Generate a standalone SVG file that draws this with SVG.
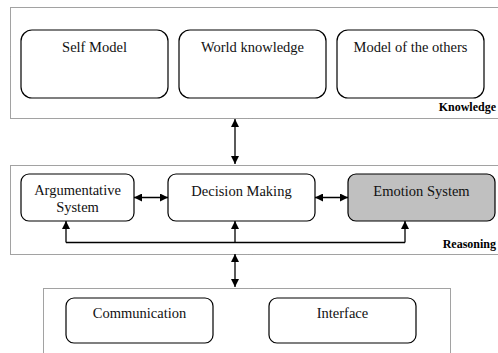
<svg xmlns="http://www.w3.org/2000/svg" width="498" height="353" viewBox="0 0 498 353">
<style>
.layer{fill:none;stroke:#444;stroke-width:1;stroke-dasharray:1 1}
.node{fill:#fff;stroke:#000;stroke-width:1.2}
.t{font-family:'Liberation Serif','DejaVu Serif',serif;font-size:14.5px;fill:#111;text-anchor:middle}
.lbl{font-family:'Liberation Serif','DejaVu Serif',serif;font-size:12px;font-weight:bold;fill:#000;text-anchor:end}
.c{fill:none;stroke:#000;stroke-width:1.3}
</style>
<defs>
<marker id="ah" viewBox="0 0 10 10" refX="10" refY="5" markerWidth="8" markerHeight="8" markerUnits="userSpaceOnUse" orient="auto-start-reverse">
<path d="M0,0 L10,5 L0,10 z" fill="#000"/>
</marker>
</defs>
<g id="layer-knowledge">
<rect class="layer" x="10.5" y="7.5" width="490" height="111"/>
<text class="lbl" x="496" y="111" font-family="Liberation Serif, serif">Knowledge</text>
</g>
<g id="layer-reasoning">
<rect class="layer" x="10.5" y="165.5" width="490" height="89"/>
<text class="lbl" x="496" y="248" font-family="Liberation Serif, serif">Reasoning</text>
</g>
<g id="layer-bottom">
<rect class="layer" x="43.5" y="288.5" width="407" height="80"/>
</g>
<g id="self-model">
<rect class="node" x="21" y="30" width="147" height="68" rx="11"/>
<text class="t" x="94.5" y="52">Self Model</text>
</g>
<g id="world-knowledge">
<rect class="node" x="179" y="30" width="147" height="68" rx="11"/>
<text class="t" x="252.5" y="52">World knowledge</text>
</g>
<g id="model-others">
<rect class="node" x="337" y="30" width="147" height="68" rx="11"/>
<text class="t" x="410.5" y="52">Model of the others</text>
</g>
<g id="argumentative">
<rect class="node" x="21" y="174" width="113" height="47" rx="8"/>
<text class="t" x="77.5" y="195">Argumentative</text>
<text class="t" x="77.5" y="212">System</text>
</g>
<g id="decision-making">
<rect class="node" x="168" y="174" width="147" height="47" rx="8"/>
<text class="t" x="241.5" y="196">Decision Making</text>
</g>
<g id="emotion-system">
<rect class="node" x="348" y="174" width="147" height="47" rx="8" style="fill:#c0c0c0"/>
<text class="t" x="421.5" y="196">Emotion System</text>
</g>
<g id="communication">
<rect class="node" x="66" y="298" width="147" height="45" rx="8"/>
<text class="t" x="139.5" y="318">Communication</text>
</g>
<g id="interface">
<rect class="node" x="269" y="298" width="147" height="45" rx="8"/>
<text class="t" x="342.5" y="318">Interface</text>
</g>
<g id="connectors">
<line class="c" x1="235" y1="119" x2="235" y2="164" marker-start="url(#ah)" marker-end="url(#ah)"/>
<line class="c" x1="235" y1="254" x2="235" y2="287" marker-start="url(#ah)" marker-end="url(#ah)"/>
<line class="c" x1="134" y1="197.5" x2="168" y2="197.5" marker-start="url(#ah)" marker-end="url(#ah)"/>
<line class="c" x1="315" y1="197.5" x2="348" y2="197.5" marker-start="url(#ah)" marker-end="url(#ah)"/>
<path class="c" d="M66,242.5 H405"/>
<line class="c" x1="66" y1="242.5" x2="66" y2="221" marker-end="url(#ah)"/>
<line class="c" x1="235" y1="242.5" x2="235" y2="221" marker-end="url(#ah)"/>
<line class="c" x1="405" y1="242.5" x2="405" y2="221" marker-end="url(#ah)"/>
</g>
</svg>
